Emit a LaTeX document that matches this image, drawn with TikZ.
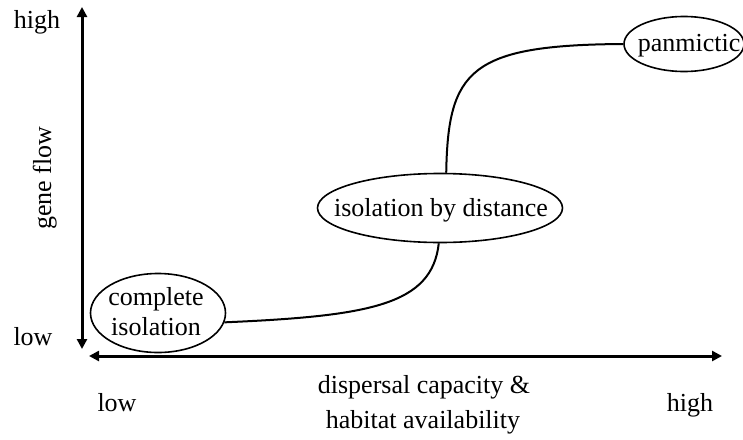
\documentclass[tikz,border=0pt]{standalone}
\usepackage{fontspec}
\setmainfont{Liberation Serif}
\usetikzlibrary{shapes.geometric,arrows.meta}
\begin{document}
\begin{tikzpicture}[x=1pt,y=-1pt,
  lbl/.style={font=\fontsize{26}{30}\selectfont, inner sep=0pt, anchor=base},
  oval/.style={draw, ellipse, line width=1.6pt, inner sep=0pt, font=\fontsize{26}{30}\selectfont, align=center},
  axis/.style={line width=3pt, {Triangle[length=10pt,width=10pt]}-{Triangle[length=10pt,width=10pt]}},
  curve/.style={line width=2pt}]
\useasboundingbox (0,0) rectangle (743,439);
\fill[white] (0,0) rectangle (743,439);
% axes
\coordinate (ytop) at (82,7);
\coordinate (ybot) at (82,349);
\coordinate (xleft) at (89,356);
\coordinate (xright) at (722,356);
\draw[axis] (ybot) -- (ytop);
\draw[axis] (xleft) -- (xright);
% axis labels
\node[lbl] (yhigh) at (37,28) {high};
\node[lbl] (ylow) at (33,345) {low};
\node[lbl, rotate=90] (ylab) at (51,178) {gene flow};
\node[lbl] (xlow) at (117,411) {low};
\node[lbl] (xhigh) at (690,411) {high};
\node[lbl] (xlab1) at (424,393) {dispersal capacity \&};
\node[lbl] (xlab2) at (423,428) {habitat availability};
% ellipses
\node[oval, minimum width=135pt, minimum height=79pt] (ci) at (158,313) {};
\node[lbl] (ci1) at (156,305) {complete};
\node[lbl] (ci2) at (156,335) {isolation};
\node[oval, minimum width=245pt, minimum height=69pt] (ibd) at (440,208) {};
\node[lbl] (ibdt) at (441,216) {isolation by distance};
\node[oval, minimum width=120pt, minimum height=55pt] (pan) at (684,44) {};
\node[lbl] (pant) at (689,51) {panmictic};
% curves
\draw[curve] (ci.-8) .. controls (370,316) and (432,305) .. (ibd.-92);
\draw[curve] (ibd.80) .. controls (448,70) and (470,45) .. (pan.west);
\end{tikzpicture}
\end{document}
